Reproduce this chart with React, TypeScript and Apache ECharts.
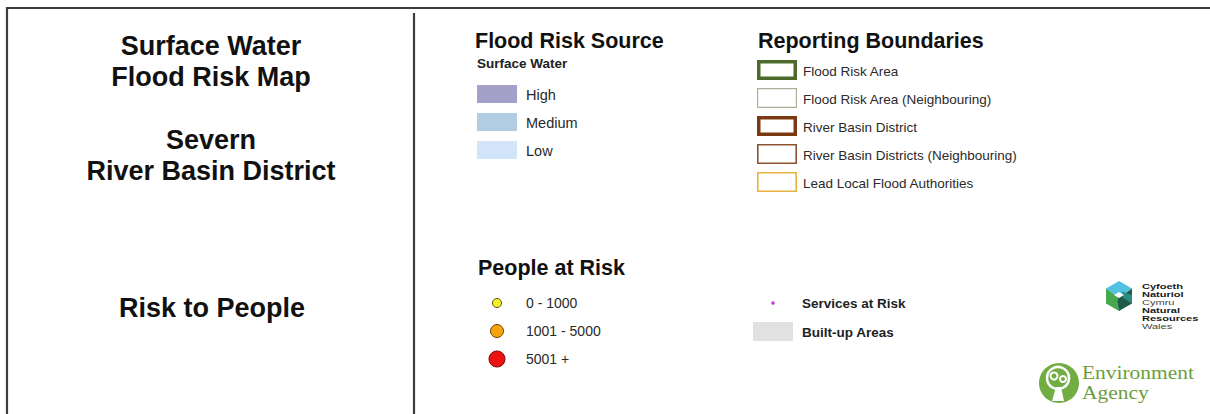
import React, { useEffect, useRef } from "react";
import * as echarts from "echarts";

// ---- content ----
const titleLines = ["Surface Water", "Flood Risk Map", "", "Severn", "River Basin District"];
const subTitle = "Risk to People";

const floodHeading = "Flood Risk Source";
const floodSubHeading = "Surface Water";
const floodLevels = ["High", "Medium", "Low"];

const boundaryHeading = "Reporting Boundaries";
const boundaries = [
  "Flood Risk Area",
  "Flood Risk Area (Neighbouring)",
  "River Basin District",
  "River Basin Districts (Neighbouring)",
  "Lead Local Flood Authorities",
];

const peopleHeading = "People at Risk";
const peopleRanges = ["0 - 1000", "1001 - 5000", "5001 +"];

const otherItems = ["Services at Risk", "Built-up Areas"];

const nrwLines = ["Cyfoeth", "Naturiol", "Cymru", "Natural", "Resources", "Wales"];
const eaLines = ["Environment", "Agency"];

// ---- styles ----
const SANS = '"Liberation Sans", Arial, sans-serif';
const SERIF = '"Liberation Serif", "Times New Roman", serif';
const floodFill: Record<string, string> = { High: "#a3a1ca", Medium: "#b0cde3", Low: "#d1e4fa" };
const boundaryStroke = [
  { stroke: "#4b6a2b", w: 3.5 },
  { stroke: "#a9b19b", w: 1.2 },
  { stroke: "#7b3a12", w: 3.5 },
  { stroke: "#8c5232", w: 1.6 },
  { stroke: "#e6b343", w: 1.6 },
];
const peopleDot = [
  { fill: "#f3ee2a", stroke: "#5a5200", r: 4.5 },
  { fill: "#f5a30a", stroke: "#6a4000", r: 6.5 },
  { fill: "#ee1111", stroke: "#7a0a0a", r: 8 },
];
const nrwBold = [true, true, false, true, true, false];

function txt(text: string, x: number, y: number, size: number, opts: any = {}) {
  return {
    type: "text",
    x,
    y,
    scaleX: opts.scaleX || 1,
    silent: true,
    style: {
      text,
      fill: opts.fill || "#111",
      fontSize: size,
      fontWeight: opts.bold ? "bold" : "normal",
      fontFamily: opts.family || SANS,
      align: opts.align || "left",
      verticalAlign: "middle",
    },
  };
}

export default function App() {
  const ref = useRef<HTMLDivElement>(null);
  useEffect(() => {
    if (!ref.current) return;
    const chart = echarts.init(ref.current, null, { renderer: "svg" });
    const g: any[] = [];

    // frame lines
    const lineStyle = { stroke: "#3c3c3c", lineWidth: 2.2 };
    g.push({ type: "line", shape: { x1: 6, y1: 8, x2: 1210, y2: 8 }, style: lineStyle });
    g.push({ type: "line", shape: { x1: 7, y1: 7, x2: 7, y2: 414 }, style: lineStyle });
    g.push({ type: "line", shape: { x1: 414, y1: 13, x2: 414, y2: 414 }, style: lineStyle });

    // left titles
    const titleY = [46, 77, 0, 140, 171];
    titleLines.forEach((t, i) => {
      if (!t) return;
      g.push(txt(t, 211, titleY[i], 27, { bold: true, align: "center" }));
    });
    g.push(txt(subTitle, 212, 308, 27, { bold: true, align: "center" }));

    // flood risk source
    g.push(txt(floodHeading, 475, 41, 21.5, { bold: true }));
    g.push(txt(floodSubHeading, 477, 63, 13.5, { bold: true, fill: "#222" }));
    floodLevels.forEach((lv, i) => {
      const y = 85 + i * 28;
      g.push({ type: "rect", shape: { x: 477, y, width: 40, height: 18 }, style: { fill: floodFill[lv] } });
      g.push(txt(lv, 526, y + 10, 14.5, { fill: "#2a2a2a" }));
    });

    // reporting boundaries
    g.push(txt(boundaryHeading, 758, 41, 21.5, { bold: true }));
    boundaries.forEach((b, i) => {
      const top = 60 + i * 28;
      const s = boundaryStroke[i];
      g.push({
        type: "rect",
        shape: { x: 757 + s.w / 2, y: top + s.w / 2, width: 40 - s.w, height: 20 - s.w },
        style: { fill: "#fff", stroke: s.stroke, lineWidth: s.w },
      });
      g.push(txt(b, 803, top + 11, 13.5, { fill: "#2a2a2a" }));
    });

    // people at risk
    g.push(txt(peopleHeading, 478, 268, 21.5, { bold: true }));
    peopleRanges.forEach((p, i) => {
      const y = 303 + i * 28;
      const d = peopleDot[i];
      g.push({ type: "circle", shape: { cx: 497, cy: y, r: d.r }, style: { fill: d.fill, stroke: d.stroke, lineWidth: 1 } });
      g.push(txt(p, 526, y, 14, { fill: "#2a2a2a" }));
    });

    // services / built-up
    g.push({ type: "circle", shape: { cx: 773, cy: 303, r: 1.8 }, style: { fill: "#c23ae0" } });
    g.push(txt(otherItems[0], 802, 303, 13.5, { bold: true, fill: "#222" }));
    g.push({ type: "rect", shape: { x: 753, y: 322, width: 40, height: 19 }, style: { fill: "#e1e1e1" } });
    g.push(txt(otherItems[1], 802, 332, 13.5, { bold: true, fill: "#222" }));

    // NRW logo
    const cx = 1119, cy = 296, R = 15, hw = 13;
    const top: [number, number] = [cx, cy - R];
    const ur: [number, number] = [cx + hw, cy - R / 2];
    const lr: [number, number] = [cx + hw, cy + R / 2];
    const bot: [number, number] = [cx, cy + R];
    const ll: [number, number] = [cx - hw, cy + R / 2];
    const ul: [number, number] = [cx - hw, cy - R / 2];
    const c: [number, number] = [cx, cy];
    g.push({ type: "polygon", shape: { points: [top, ur, [cx + 4, cy - 1], c, [cx - 4, cy - 1], ul] }, style: { fill: "#52c2e2" } });
    g.push({ type: "polygon", shape: { points: [ul, [cx - 4, cy - 1], c, [cx - 2, cy + 5], bot, ll] }, style: { fill: "#45a84e" } });
    g.push({ type: "polygon", shape: { points: [c, [cx + 4, cy - 1], ur, lr, bot, [cx - 2, cy + 5]] }, style: { fill: "#1f5a4a" } });
    g.push({ type: "polygon", shape: { points: [[cx + 3, cy - R / 2 + 3], [lr[0], cy - 1], lr, [cx + 4, cy + 2]] }, style: { fill: "#2d8c82" } });
    g.push({ type: "polygon", shape: { points: [[cx, cy - 4], [cx + 5, cy - 1], [cx, cy + 2], [cx - 5, cy - 1]] }, style: { fill: "#ffffff" } });
    nrwLines.forEach((t, i) => {
      g.push(
        txt(t, 1142, 285.8 + i * 8.1, 8, {
          bold: nrwBold[i],
          fill: nrwBold[i] ? "#1a1a1a" : "#444",
          scaleX: 1.38,
        })
      );
    });

    // Environment Agency logo
    const ex = 1059, ey = 383;
    g.push({ type: "circle", shape: { cx: ex, cy: ey, r: 20 }, style: { fill: "#72ad44" } });
    g.push({ type: "circle", shape: { cx: ex - 1, cy: ey - 5, r: 11 }, style: { fill: "none", stroke: "#fff", lineWidth: 2.5 } });
    g.push({ type: "circle", shape: { cx: ex - 5, cy: ey - 7, r: 3.5 }, style: { fill: "none", stroke: "#fff", lineWidth: 2 } });
    g.push({ type: "circle", shape: { cx: ex + 4, cy: ey - 4, r: 3 }, style: { fill: "none", stroke: "#fff", lineWidth: 2 } });
    g.push({ type: "polygon", shape: { points: [[ex - 3, ey + 4], [ex + 2, ey + 4], [ex + 5, ey + 18], [ex - 7, ey + 18]] }, style: { fill: "#fff" } });
    eaLines.forEach((t, i) => {
      g.push(txt(t, 1082, 372 + i * 20.2, 19.5, { family: SERIF, fill: "#6b9e3c", scaleX: 1.1 }));
    });

    chart.setOption({ animation: false, backgroundColor: "#ffffff", graphic: { elements: g } });
    return () => chart.dispose();
  }, []);
  return (
    <div
      ref={ref}
      style={{ position: "fixed", left: 0, top: 0, width: 1210, height: 414, background: "#fff" }}
    />
  );
}
